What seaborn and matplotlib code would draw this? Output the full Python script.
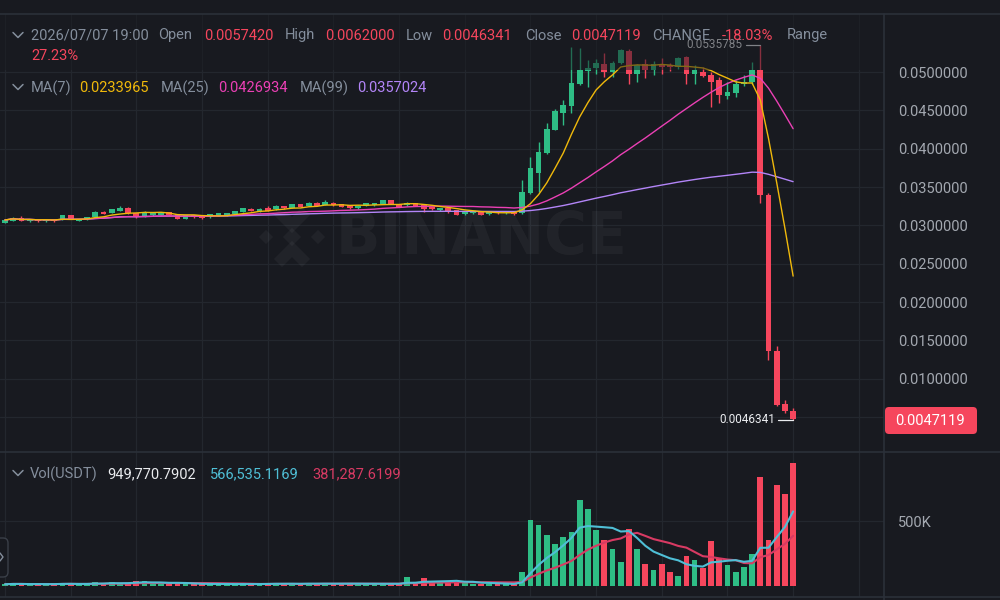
import numpy as np
import pandas as pd
import matplotlib.pyplot as plt
import seaborn as sns
from matplotlib.patches import FancyBboxPatch, Rectangle, Polygon
from matplotlib.lines import Line2D

# ---------------------------
# Candle data (one entry per candle)
# ---------------------------
opens = [
    0.03035, 0.03061, 0.03100, 0.03052, 0.03083, 0.03052, 0.03078, 0.03078, 0.03135, 0.03061,
    0.03078, 0.03104, 0.03178, 0.03165, 0.03191, 0.03222, 0.03157, 0.03113, 0.03130, 0.03139,
    0.03170, 0.03148, 0.03083, 0.03135, 0.03135, 0.03104, 0.03126, 0.03130, 0.03143, 0.03174,
    0.03217, 0.03178, 0.03222, 0.03209, 0.03252, 0.03230, 0.03278, 0.03252, 0.03296, 0.03270,
    0.03296, 0.03278, 0.03265, 0.03222, 0.03257, 0.03261, 0.03278, 0.03330, 0.03278, 0.03261,
    0.03287, 0.03265, 0.03235, 0.03196, 0.03222, 0.03200, 0.03143, 0.03157, 0.03174, 0.03143,
    0.03178, 0.03157, 0.03174,
    0.03157, 0.03418, 0.03679, 0.03940, 0.04244, 0.04469, 0.04561, 0.04839, 0.05017, 0.05050,
    0.05110, 0.05000, 0.05120, 0.05270, 0.04980, 0.05110, 0.05030, 0.05090, 0.05090, 0.05060,
    0.05190, 0.04980, 0.05000, 0.04960, 0.04890, 0.04690, 0.04730, 0.04840, 0.04870, 0.05030,
    0.03400, 0.01360, 0.00670, 0.005742,
]
highs = [
    0.03080, 0.03105, 0.03122, 0.03083, 0.03087, 0.03083, 0.03083, 0.03140, 0.03140, 0.03083,
    0.03109, 0.03183, 0.03183, 0.03214, 0.03248, 0.03243, 0.03161, 0.03187, 0.03170, 0.03174,
    0.03174, 0.03152, 0.03139, 0.03139, 0.03139, 0.03152, 0.03161, 0.03161, 0.03191, 0.03226,
    0.03222, 0.03222, 0.03252, 0.03261, 0.03257, 0.03283, 0.03283, 0.03300, 0.03300, 0.03330,
    0.03300, 0.03283, 0.03270, 0.03261, 0.03291, 0.03291, 0.03335, 0.03335, 0.03283, 0.03309,
    0.03291, 0.03270, 0.03239, 0.03226, 0.03226, 0.03204, 0.03183, 0.03183, 0.03178, 0.03178,
    0.03183, 0.03191, 0.03178,
    0.03591, 0.03895, 0.04091, 0.04330, 0.04520, 0.04635, 0.05330, 0.05310, 0.05160, 0.05170,
    0.05250, 0.05150, 0.05300, 0.05300, 0.05110, 0.05170, 0.05150, 0.05180, 0.05120, 0.05200,
    0.05210, 0.05090, 0.05060, 0.05000, 0.04940, 0.04870, 0.04900, 0.04960, 0.05130, 0.0535785,
    0.03420, 0.01430, 0.00720, 0.006200,
]
lows = [
    0.03030, 0.03055, 0.03055, 0.03048, 0.03048, 0.03048, 0.03048, 0.03074, 0.03078, 0.03057,
    0.03074, 0.03100, 0.03143, 0.03161, 0.03187, 0.03152, 0.03100, 0.03109, 0.03126, 0.03135,
    0.03135, 0.03083, 0.03078, 0.03100, 0.03087, 0.03100, 0.03122, 0.03126, 0.03139, 0.03170,
    0.03183, 0.03174, 0.03183, 0.03204, 0.03217, 0.03226, 0.03235, 0.03248, 0.03252, 0.03265,
    0.03257, 0.03239, 0.03217, 0.03217, 0.03252, 0.03257, 0.03274, 0.03274, 0.03239, 0.03257,
    0.03252, 0.03178, 0.03204, 0.03191, 0.03165, 0.03135, 0.03139, 0.03152, 0.03130, 0.03139,
    0.03152, 0.03152, 0.03139,
    0.03150, 0.03410, 0.03440, 0.03935, 0.04240, 0.04310, 0.04465, 0.04835, 0.04810, 0.04980,
    0.04930, 0.04940, 0.05100, 0.04850, 0.04870, 0.04920, 0.04960, 0.04970, 0.05010, 0.05040,
    0.04850, 0.04850, 0.04930, 0.04550, 0.04600, 0.04650, 0.04670, 0.04820, 0.04850, 0.03290,
    0.01250, 0.00640, 0.00550, 0.0046341,
]
closes = [
    0.03070, 0.03100, 0.03061, 0.03078, 0.03052, 0.03078, 0.03052, 0.03135, 0.03083, 0.03078,
    0.03104, 0.03178, 0.03148, 0.03209, 0.03230, 0.03157, 0.03104, 0.03157, 0.03165, 0.03170,
    0.03139, 0.03087, 0.03135, 0.03104, 0.03091, 0.03148, 0.03157, 0.03157, 0.03187, 0.03222,
    0.03187, 0.03217, 0.03187, 0.03257, 0.03222, 0.03278, 0.03239, 0.03296, 0.03257, 0.03304,
    0.03261, 0.03243, 0.03222, 0.03257, 0.03287, 0.03287, 0.03330, 0.03278, 0.03243, 0.03296,
    0.03257, 0.03217, 0.03209, 0.03222, 0.03191, 0.03139, 0.03178, 0.03178, 0.03135, 0.03174,
    0.03157, 0.03187, 0.03143,
    0.03439, 0.03744, 0.03961, 0.04253, 0.04491, 0.04570, 0.04853, 0.05026, 0.05048, 0.05120,
    0.05000, 0.05120, 0.05290, 0.04980, 0.05090, 0.05030, 0.05110, 0.05070, 0.05060, 0.05180,
    0.04980, 0.05020, 0.04950, 0.04870, 0.04700, 0.04740, 0.04840, 0.04870, 0.05030, 0.03400,
    0.01360, 0.00660, 0.00575, 0.0047119,
]
volumes = [
    14e3, 18e3, 16e3, 12e3, 15e3, 13e3, 14e3, 26e3, 22e3, 10e3,
    14e3, 30e3, 18e3, 34e3, 22e3, 26e3, 36e3, 38e3, 20e3, 16e3,
    14e3, 22e3, 18e3, 14e3, 16e3, 15e3, 12e3, 14e3, 16e3, 18e3,
    14e3, 16e3, 22e3, 20e3, 16e3, 18e3, 14e3, 20e3, 16e3, 24e3,
    18e3, 16e3, 20e3, 14e3, 16e3, 15e3, 22e3, 18e3, 16e3, 72e3,
    20e3, 64e3, 28e3, 34e3, 30e3, 34e3, 22e3, 16e3, 18e3, 14e3,
    16e3, 12e3, 14e3,
    110e3, 508e3, 469e3, 392e3, 328e3, 379e3, 418e3, 667e3, 597e3, 436e3,
    359e3, 290e3, 185e3, 444e3, 290e3, 174e3, 123e3, 174e3, 110e3, 77e3,
    233e3, 200e3, 136e3, 349e3, 213e3, 161e3, 110e3, 144e3, 251e3, 841e3,
    354e3, 785e3, 713e3, 949770.7902,
]

price_ticks = [0.005, 0.010, 0.015, 0.020, 0.025, 0.030, 0.035, 0.040, 0.045, 0.050]

header_row = [
    ("2026/07/07 19:00", "gray", 31), ("Open", "gray", 158), ("0.0057420", "red", 204),
    ("High", "gray", 285), ("0.0062000", "red", 325.5), ("Low", "gray", 406),
    ("0.0046341", "red", 442.5), ("Close", "gray", 525), ("0.0047119", "red", 571.5),
    ("CHANGE", "gray", 652), ("-18.03%", "red", 721.5), ("Range", "gray", 787),
]
ma_row = [
    ("MA(7)", "gray", 31), ("0.0233965", "yellow", 79.5), ("MA(25)", "gray", 161),
    ("0.0426934", "pink", 218.5), ("MA(99)", "gray", 299.5), ("0.0357024", "purple", 357),
]
vol_row = [
    ("Vol(USDT)", "gray", 30), ("949,770.7902", "white", 107.5),
    ("566,535.1169", "vblue", 209.5), ("381,287.6199", "vred", 312.5),
]

# ---------------------------
# Colours
# ---------------------------
BG = "#181a20"
GRID = "#23272e"
BORDER = "#2b3039"
GREEN = "#2ebd85"
RED = "#f6465d"
C = {
    "gray": "#848e9c", "red": RED, "yellow": "#f0b90b", "pink": "#eb40b5",
    "purple": "#b385f8", "white": "#eaecef", "vblue": "#4fbfd6", "vred": "#d83a63",
}

sns.set_theme(style="dark", rc={
    "figure.facecolor": BG, "axes.facecolor": BG, "savefig.facecolor": BG,
    "axes.edgecolor": BG, "grid.color": GRID,
})
plt.rcParams["font.family"] = ["Roboto", "DejaVu Sans"]

df = pd.DataFrame({"idx": np.arange(len(closes)), "open": opens, "high": highs,
                   "low": lows, "close": closes, "vol": volumes})
df["ma7"] = df["close"].rolling(7, min_periods=1).mean()
df["ma25"] = df["close"].rolling(25, min_periods=1).mean()
df["ma99"] = df["close"].rolling(99, min_periods=1).mean()
df["vma7"] = df["vol"].rolling(7, min_periods=1).mean()
df["vma14"] = df["vol"].rolling(14, min_periods=1).mean()
df["up"] = df["close"] >= df["open"]
colors = np.where(df["up"], GREEN, RED)

W, H = 1000, 600
fig = plt.figure(figsize=(W / 100, H / 100), dpi=100)
T = fig.dpi_scale_trans


def box(l, t, r, b):
    return [l / W, 1 - b / H, (r - l) / W, (b - t) / H]


def px(x, y):
    return x / 100, (H - y) / 100


ax = fig.add_axes(box(0, 14, 884, 452))
axv = fig.add_axes(box(0, 452, 884, 597))

# ---------------------------
# Price panel
# ---------------------------
x = df["idx"].values
ax.vlines(x, df["low"], df["high"], colors=colors, lw=1.0, zorder=2)
body_lo = np.minimum(df["open"], df["close"])
body_h = np.maximum(np.abs(df["close"] - df["open"]), 0.00012)
ax.bar(x, body_h, bottom=body_lo, width=0.7, color=colors, lw=0, zorder=2)

sns.lineplot(data=df, x="idx", y="ma99", ax=ax, color=C["purple"], lw=1.0, zorder=3)
sns.lineplot(data=df, x="idx", y="ma25", ax=ax, color=C["pink"], lw=1.0, zorder=3)
sns.lineplot(data=df, x="idx", y="ma7", ax=ax, color=C["yellow"], lw=1.0, zorder=3)

# high / low markers
i_hi = int(np.argmax(highs))
i_lo = int(np.argmin(lows))
ax.plot([i_hi - 1.8, i_hi], [highs[i_hi]] * 2, color="#eaecef", lw=0.9, zorder=4)
ax.text(i_hi - 2.2, highs[i_hi], f"{highs[i_hi]:.7f}", color="#eaecef", fontsize=8.5,
        ha="right", va="center", zorder=4)
ax.plot([i_lo - 1.8, i_lo], [lows[i_lo]] * 2, color="#eaecef", lw=0.9, zorder=4)
ax.text(i_lo - 2.2, lows[i_lo], f"{lows[i_lo]:.7f}", color="#eaecef", fontsize=8.5,
        ha="right", va="center", zorder=4)

ax.set_xlim(-0.61, 107.07)
ax.set_ylim(0.000437, 0.057565)
ax.set_xticks(np.arange(0, 105, 8))
ax.set_xticklabels([])
ax.set_yticks(price_ticks)
# the lowest label sits under the last-price tag, so it is left blank
ax.set_yticklabels([""] + [f"{t:.7f}" for t in price_ticks[1:]])
ax.yaxis.tick_right()
ax.tick_params(axis="y", length=0, pad=10, labelsize=10.5, labelcolor="#a3a8b0")
ax.tick_params(axis="x", length=0)
ax.grid(True, color=GRID, lw=0.9)
ax.set_xlabel("")
ax.set_ylabel("")
for s in ax.spines.values():
    s.set_visible(False)

# watermark
ax.text(0.545, 0.49, "BINANCE", transform=ax.transAxes, fontsize=42, fontweight="bold",
        color="white", alpha=0.045, ha="center", va="center", family="DejaVu Sans", zorder=1)
for cx, cy, r in [(292, 237, 9), (266, 237, 7), (318, 237, 7)]:
    fig.add_artist(Polygon([px(cx - r, cy), px(cx, cy - r), px(cx + r, cy), px(cx, cy + r)],
                           closed=True, transform=T, fc="white", alpha=0.045, ec="none"))
for sgn in (-1, 1):
    cy = 237 + sgn * 14
    pts = [px(274, cy + sgn * 8), px(292, cy - sgn * 10), px(310, cy + sgn * 8),
           px(302, cy + sgn * 16), px(292, cy + sgn * 6), px(282, cy + sgn * 16)]
    fig.add_artist(Polygon(pts, closed=True, transform=T, fc="white", alpha=0.045, ec="none"))

# ---------------------------
# Volume panel
# ---------------------------
axv.bar(x, df["vol"], width=0.7, color=colors, lw=0, zorder=2)
sns.lineplot(data=df, x="idx", y="vma14", ax=axv, color=C["vred"], lw=1.5, zorder=3)
sns.lineplot(data=df, x="idx", y="vma7", ax=axv, color=C["vblue"], lw=1.5, zorder=3)
axv.set_xlim(-0.61, 107.07)
axv.set_ylim(-85000, 1037000)
axv.set_xticks(np.arange(0, 105, 8))
axv.set_xticklabels([])
axv.set_yticks([500000])
axv.set_yticklabels(["500K"])
axv.yaxis.tick_right()
axv.tick_params(axis="y", length=0, pad=10, labelsize=10.5, labelcolor="#a3a8b0")
axv.tick_params(axis="x", length=0)
axv.grid(True, color=GRID, lw=0.9)
axv.set_xlabel("")
axv.set_ylabel("")
for s in axv.spines.values():
    s.set_visible(False)

# ---------------------------
# Panel borders, header band, legends
# ---------------------------
fig.add_artist(Rectangle(px(0, 70), 8.84, 0.56, transform=T, fc=BG, alpha=0.5,
                         ec="none", zorder=5))
for (x0, y0, x1, y1) in [(0, 14, 1000, 14), (0, 452, 1000, 452), (0, 597, 1000, 597),
                         (884, 14, 884, 600)]:
    fig.add_artist(Line2D([x0 / 100, x1 / 100], [(H - y0) / 100, (H - y1) / 100],
                          transform=T, color=BORDER, lw=1.2, zorder=6))


def chevron(cx, cy):
    fig.add_artist(Line2D([(cx - 5) / 100, cx / 100, (cx + 5) / 100],
                          [(H - cy + 2.5) / 100, (H - cy - 2.5) / 100, (H - cy + 2.5) / 100],
                          transform=T, color=C["gray"], lw=1.1, zorder=7))


def label(xp, yp, s, color, size=10.5):
    fig.text(xp / 100, (H - yp) / 100, s, transform=T, color=color, fontsize=size,
             ha="left", va="center", zorder=7)


chevron(18, 35)
for s, c, xp in header_row:
    label(xp, 35.5, s, C[c])
label(31, 56, "27.23%", C["red"])
chevron(18, 87)
for s, c, xp in ma_row:
    label(xp, 88, s, C[c])
chevron(18, 473)
for s, c, xp in vol_row:
    label(xp, 474, s, C[c])

# last price tag
fig.add_artist(FancyBboxPatch(px(885, 434), 0.92, 0.27, transform=T,
                              boxstyle="round,pad=0,rounding_size=0.04",
                              fc=RED, ec="none", zorder=7))
label(931 - 35.5, 421, f"{closes[-1]:.7f}", "white")

# collapsed side button on the left edge
fig.add_artist(FancyBboxPatch(px(-12, 577), 0.2, 0.39, transform=T,
                              boxstyle="round,pad=0,rounding_size=0.05",
                              fc=BG, ec="#3a3f48", lw=1.0, zorder=7))
fig.add_artist(Line2D([0.0, 0.03, 0.0], [(H - 553) / 100, (H - 557) / 100, (H - 561) / 100],
                      transform=T, color=C["gray"], lw=1.0, zorder=8))

fig.savefig("out.png", dpi=100)
